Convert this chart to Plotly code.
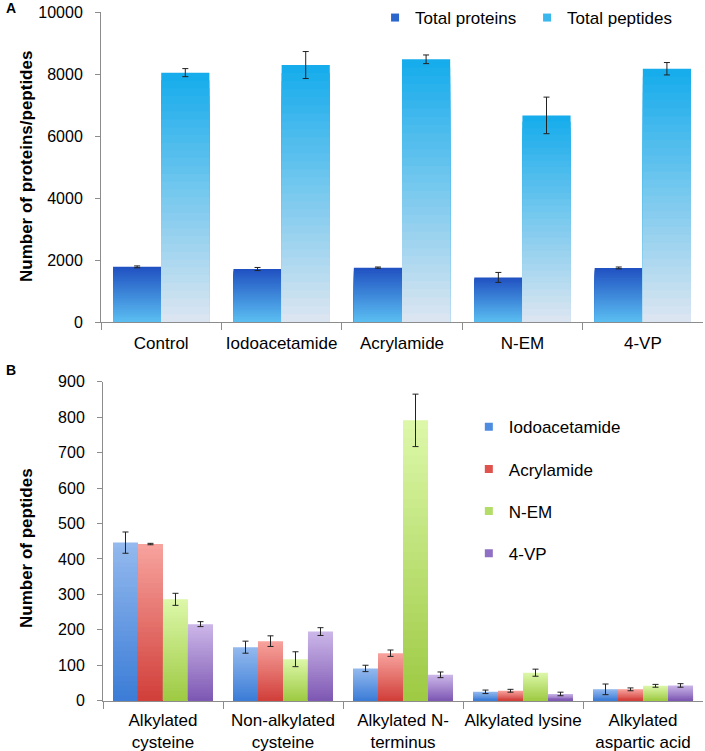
import plotly.graph_objects as go

# ---------------- data ----------------
top_categories = ["Control", "Iodoacetamide", "Acrylamide", "N-EM", "4-VP"]
total_proteins = [1780, 1710, 1755, 1440, 1745]
total_proteins_err = [30, 50, 20, 160, 30]
total_peptides = [8045, 8290, 8475, 6665, 8170]
total_peptides_err = [130, 435, 140, 590, 200]

bottom_categories = ["Alkylated<br>cysteine", "Non-alkylated<br>cysteine",
                     "Alkylated N-<br>terminus", "Alkylated lysine",
                     "Alkylated<br>aspartic acid"]
iodoacetamide = [446, 151, 91, 25, 32]
iodoacetamide_err = [30, 17, 9, 5, 15]
acrylamide = [442, 168, 134, 28, 32]
acrylamide_err = [2, 15, 9, 4, 4]
nem = [286, 117, 791, 79, 42]
nem_err = [17, 21, 74, 10, 4]
vp4 = [216, 195, 73, 19, 43]
vp4_err = [7, 11, 8, 5, 5]

FONT = "Arial, Liberation Sans, sans-serif"
N = 32


def hex2rgb(h):
    h = h.lstrip("#")
    return tuple(int(h[i:i + 2], 16) for i in (0, 2, 4))


def interp(c1, c2, t):
    a, b = hex2rgb(c1), hex2rgb(c2)
    return "rgb(%d,%d,%d)" % tuple(round(a[i] + (b[i] - a[i]) * t) for i in range(3))


fig = go.Figure()


def add_series(cats, vals, errs, name, c_top, c_bottom, offset, width,
               xaxis, yaxis, legend, group, swatch):
    # gradient: draw full bar then overlay progressively shorter bars
    for k in range(N):
        frac = (N - k) / N
        t = 1 - (k / N)
        col = interp(c_bottom, c_top, t)
        fig.add_trace(go.Bar(
            x=cats, y=[v * frac for v in vals], name=name,
            marker=dict(color=col, line=dict(width=0)),
            offset=offset, width=width, xaxis=xaxis, yaxis=yaxis,
            showlegend=False, legendgroup=group, legend=legend,
            hoverinfo="skip"))
    # transparent bar carrying error bars
    fig.add_trace(go.Bar(
        x=cats, y=vals, name=name,
        marker=dict(color="rgba(0,0,0,0)", line=dict(width=0)),
        offset=offset, width=width, xaxis=xaxis, yaxis=yaxis,
        error_y=dict(type="data", array=errs, color="#222222",
                     thickness=1, width=3),
        showlegend=False, legendgroup=group, legend=legend))
    # legend swatch trace (small square)
    fig.add_trace(go.Scatter(
        x=[cats[0]], y=[None], name=name, mode="markers",
        marker=dict(color=swatch, symbol="square", size=8, line=dict(width=0)),
        xaxis=xaxis, yaxis=yaxis, showlegend=True,
        legendgroup=group, legend=legend))


# top chart
add_series(top_categories, total_proteins, total_proteins_err, "Total proteins",
           "#2152c2", "#5cc0f2", -0.4, 0.4, "x", "y", "legend", "p", "#2a66cc")
add_series(top_categories, total_peptides, total_peptides_err, "Total peptides",
           "#17acec", "#e0e7f1", 0.0, 0.4, "x", "y", "legend", "q", "#3ab8ee")

# bottom chart
w = 0.2083
add_series(bottom_categories, iodoacetamide, iodoacetamide_err, "Iodoacetamide",
           "#93b9ee", "#3a7bd6", -0.4167, w, "x2", "y2", "legend2", "a", "#4d8ce0")
add_series(bottom_categories, acrylamide, acrylamide_err, "Acrylamide",
           "#f7a29d", "#d03d38", -0.4167 + w, w, "x2", "y2", "legend2", "b", "#e0524c")
add_series(bottom_categories, nem, nem_err, "N-EM",
           "#dcf7a8", "#9cc941", -0.4167 + 2 * w, w, "x2", "y2", "legend2", "c", "#b4dc68")
add_series(bottom_categories, vp4, vp4_err, "4-VP",
           "#cbb6e8", "#7c56b2", -0.4167 + 3 * w, w, "x2", "y2", "legend2", "d", "#9070c4")

axis_common = dict(showline=True, linecolor="#8c8c8c", linewidth=1,
                   showgrid=False, zeroline=False, automargin=False,
                   ticks="outside", tickcolor="#8c8c8c", fixedrange=True)
xfont = dict(family=FONT, size=17, color="#000")
yfont = dict(family=FONT, size=16, color="#000")

fig.update_layout(
    width=705, height=751,
    margin=dict(l=0, r=0, t=0, b=0, autoexpand=False),
    paper_bgcolor="white", plot_bgcolor="white",
    barmode="overlay",
    font=dict(family=FONT, color="#000"),
    xaxis=dict(domain=[0.1433, 0.9972], anchor="y", type="category",
               range=[-0.5, 4.5], tickson="boundaries", ticklen=7,
               tickangle=0, tickfont=xfont, ticklabelstandoff=6, **axis_common),
    yaxis=dict(domain=[0.5712, 0.9840], anchor="x", range=[0, 10000],
               dtick=2000, ticklen=5, tickformat="d", tickfont=yfont,
               ticklabelstandoff=9, **axis_common),
    xaxis2=dict(domain=[0.1461, 0.9972], anchor="y2", type="category",
                range=[-0.5, 4.5], tickson="boundaries", ticklen=7,
                tickangle=0, tickfont=xfont, ticklabelstandoff=4, **axis_common),
    yaxis2=dict(domain=[0.0670, 0.4917], anchor="x2", range=[0, 900],
                dtick=100, ticklen=5, tickformat="d", tickfont=yfont,
                ticklabelstandoff=9, **axis_common),
    legend=dict(orientation="h", x=0.532, y=1.0, xanchor="left", yanchor="top",
                entrywidth=107, entrywidthmode="pixels", itemwidth=30,
                font=dict(family=FONT, size=17, color="#000"),
                bgcolor="rgba(0,0,0,0)"),
    legend2=dict(orientation="v", x=0.665, y=0.455, xanchor="left", yanchor="top",
                 itemwidth=30, tracegroupgap=17,
                 font=dict(family=FONT, size=17, color="#000"),
                 bgcolor="rgba(0,0,0,0)"),
    annotations=[
        dict(text="<b>A</b>", x=4 / 705, y=1 - 8 / 751, xref="paper", yref="paper",
             showarrow=False, xanchor="left", yanchor="middle",
             font=dict(family=FONT, size=14, color="#000")),
        dict(text="<b>B</b>", x=4 / 705, y=1 - 370 / 751, xref="paper", yref="paper",
             showarrow=False, xanchor="left", yanchor="middle",
             font=dict(family=FONT, size=14, color="#000")),
        dict(text="<b>Number of proteins/peptides</b>", x=27 / 705, y=1 - 167 / 751,
             xref="paper", yref="paper", showarrow=False, textangle=-90,
             xanchor="center", yanchor="middle",
             font=dict(family=FONT, size=17, color="#000")),
        dict(text="<b>Number of peptides</b>", x=26 / 705, y=1 - 548 / 751,
             xref="paper", yref="paper", showarrow=False, textangle=-90,
             xanchor="center", yanchor="middle",
             font=dict(family=FONT, size=17, color="#000")),
    ],
)

fig.write_html("out.html", config={"displayModeBar": False},
               post_script="document.body.style.margin='0';")
